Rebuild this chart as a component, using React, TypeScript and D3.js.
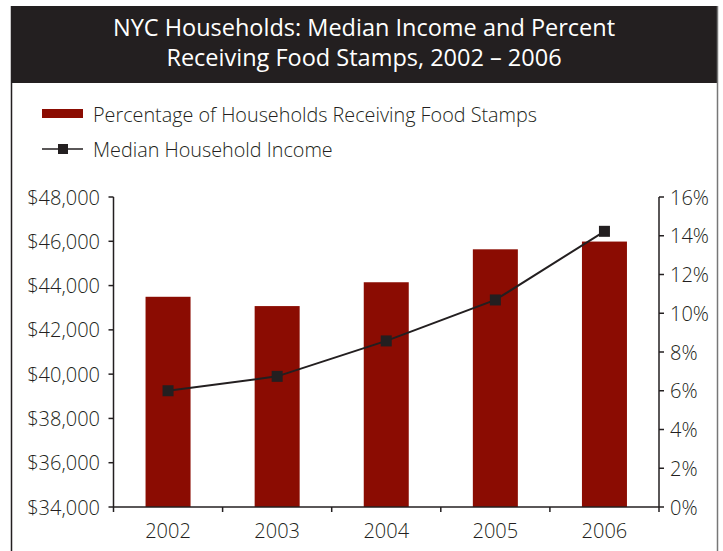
import React from 'react';
import * as d3 from 'd3';

const years: string[] = ['2002', '2003', '2004', '2005', '2006'];
const foodStampPct: number[] = [10.85, 10.37, 11.6, 13.3, 13.7];
const medianIncome: number[] = [39250, 39900, 41500, 43350, 46450];
const incomeTicks: number[] = [34000, 36000, 38000, 40000, 42000, 44000, 46000, 48000];
const pctTicks: number[] = [0, 2, 4, 6, 8, 10, 12, 14, 16];
const titleLines: string[] = ['NYC Households: Median Income and Percent', 'Receiving Food Stamps, 2002 – 2006'];
const legendLabels: string[] = ['Percentage of Households Receiving Food Stamps', 'Median Household Income'];

const W = 723;
const H = 551;
const FONT = '"Open Sans", "Noto Sans", sans-serif';
const DARK = '#231f20';
const RED = '#8b0c02';

export default function App() {
  const left = 113.5;
  const right = 659;
  const top = 197;
  const bottom = 507;

  const x = d3.scaleBand<string>().domain(years).range([left, right]).paddingInner(0.5875).paddingOuter(0.29375);
  const step = x.step();
  const yL = d3.scaleLinear().domain([34000, 48000]).range([bottom, top]);
  const yR = d3.scaleLinear().domain([0, 16]).range([bottom, top]);
  const fmtMoney = d3.format('$,');

  const line = d3
    .line<number>()
    .x((_, i) => (x(years[i]) as number) + x.bandwidth() / 2)
    .y((d) => yL(d));

  const boundaries = d3.range(years.length + 1).map((i) => left + i * step);

  return (
    <svg width={W} height={H} style={{ position: 'absolute', left: 0, top: 0, background: '#fff' }} fontFamily={FONT} fontWeight={300}>
      {/* frame */}
      <rect x={11} y={6} width={706} height={77} fill={DARK} />
      <line x1={11.5} y1={6} x2={11.5} y2={H} stroke={DARK} strokeWidth={1.5} />
      <line x1={717.5} y1={6} x2={717.5} y2={H} stroke="#777" strokeWidth={1.5} />
      {titleLines.map((t, i) => (
        <text key={t} x={364} y={27 + i * 30} fill="#fff" fontSize={23.5} fontWeight={400} textAnchor="middle" dominantBaseline="central">
          {t}
        </text>
      ))}

      {/* legend */}
      <rect x={42} y={109} width={41} height={9} fill={RED} />
      <text x={93} y={114} fontSize={19.8} fill={DARK} dominantBaseline="central">
        {legendLabels[0]}
      </text>
      <line x1={42} x2={83} y1={149} y2={149} stroke={DARK} strokeWidth={1.5} />
      <rect x={58} y={144} width={10} height={10} fill={DARK} />
      <text x={93} y={149} fontSize={19.8} fill={DARK} dominantBaseline="central">
        {legendLabels[1]}
      </text>

      {/* bars */}
      {years.map((yr, i) => (
        <rect key={yr} x={x(yr)} y={yR(foodStampPct[i])} width={x.bandwidth()} height={bottom - yR(foodStampPct[i])} fill={RED} />
      ))}

      {/* line */}
      <path d={line(medianIncome) || ''} fill="none" stroke={DARK} strokeWidth={2} />
      {medianIncome.map((v, i) => (
        <rect
          key={i}
          x={(x(years[i]) as number) + x.bandwidth() / 2 - 5.5}
          y={yL(v) - 5.5}
          width={11}
          height={11}
          fill={DARK}
        />
      ))}

      {/* left axis */}
      <line x1={left} x2={left} y1={top} y2={bottom} stroke={DARK} strokeWidth={1.5} />
      {incomeTicks.map((t) => (
        <g key={t}>
          <line x1={left - 5} x2={left} y1={yL(t)} y2={yL(t)} stroke={DARK} strokeWidth={1.5} />
          <text x={100} y={yL(t)} fontSize={20} fill={DARK} textAnchor="end" dominantBaseline="central">
            {fmtMoney(t)}
          </text>
        </g>
      ))}

      {/* right axis */}
      <line x1={right} x2={right} y1={top} y2={bottom} stroke={DARK} strokeWidth={1.5} />
      {pctTicks.map((t) => (
        <g key={t}>
          <line x1={right} x2={right + 5} y1={yR(t)} y2={yR(t)} stroke={DARK} strokeWidth={1.5} />
          <text x={670} y={yR(t)} fontSize={20} fill={DARK} dominantBaseline="central">
            {t}%
          </text>
        </g>
      ))}

      {/* x axis */}
      <line x1={left} x2={right} y1={bottom} y2={bottom} stroke={DARK} strokeWidth={1.5} />
      {boundaries.map((b, i) => (
        <line key={i} x1={b} x2={b} y1={bottom} y2={bottom + 5} stroke={DARK} strokeWidth={1.5} />
      ))}
      {years.map((yr) => (
        <text key={yr} x={(x(yr) as number) + x.bandwidth() / 2} y={530} fontSize={20} fill={DARK} textAnchor="middle" dominantBaseline="central">
          {yr}
        </text>
      ))}
    </svg>
  );
}
